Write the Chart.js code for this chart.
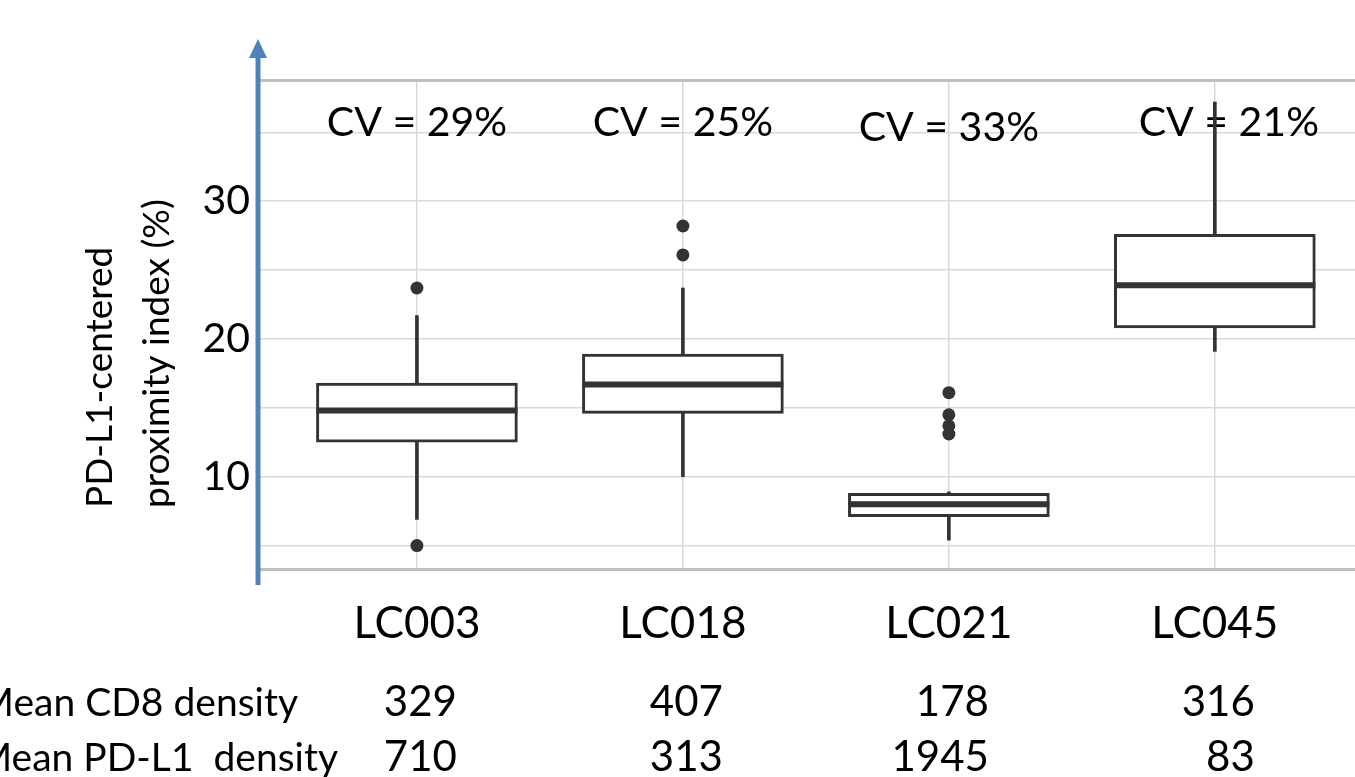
<!DOCTYPE html>
<html>
<head>
<meta charset="utf-8">
<script src="https://cdn.jsdelivr.net/npm/chart.js@4.4.1/dist/chart.umd.min.js"></script>
<style>
	body { margin: 0; background: #fff; }
	canvas { display: block; }
</style>
</head>
<body>
<canvas id="chart-box" width="1355" height="777"></canvas>
<script>
const categories = ['LC003', 'LC018', 'LC021', 'LC045'];

// box statistics
const whisker_low = [6.9, 10.0, 5.4, 19.1];
const q1 = [12.5, 14.6, 7.1, 20.8];
const median = [14.8, 16.7, 8.0, 23.9];
const q3 = [16.8, 18.9, 8.8, 27.6];
const whisker_high = [21.7, 23.7, 8.9, 37.2];
const outliers = [
	[23.7, 5.0],
	[28.2, 26.1],
	[16.1, 14.5, 13.7, 13.1],
	[],
];

const cv_labels = ['CV = 29%', 'CV = 25%', 'CV = 33%', 'CV = 21%'];
const cd8_density = [329, 407, 178, 316];
const pdl1_density = [710, 313, 1945, 83];

const y_ticks = [5, 10, 15, 20, 25, 30, 35];
const y_labels = [10, 20, 30];
const y_title = ['PD-L1-centered', 'proximity index (%)'];
const row_labels = ['Mean CD8 density', 'Mean PD-L1  density'];

const y_min = 3.3;
const y_max = 38.8;
const x_min = -0.59;
const x_max = 3.527;

const FONT = 'Lato, "Open Sans", sans-serif';
const DARK = '#333333';

const rows = (arr) => arr.map((v, i) => ({x: i, y: v}));

const outlier_points = [];
outliers.forEach((list, i) => list.forEach(v => outlier_points.push({x: i, y: v})));

const extras = {
	id: 'extras',
	beforeDatasetsDraw(chart) {
		const {ctx, chartArea} = chart;
		const xs = chart.scales.x;
		ctx.save();
		ctx.fillStyle = '#000';
		ctx.font = '41px ' + FONT;
		ctx.textAlign = 'center';
		ctx.textBaseline = 'alphabetic';
		cv_labels.forEach((t, i) => {
			const dy = i === 2 ? 5 : 0;
			const dx = i === 3 ? 14 : 0;
			ctx.fillText(t, xs.getPixelForValue(i) + dx, chartArea.top + 56 + dy);
		});
		ctx.restore();
	},
	afterDraw(chart) {
		const {ctx, chartArea} = chart;
		const xs = chart.scales.x;
		ctx.save();

		// blue axis arrow
		const ax = chartArea.left - 2;
		ctx.strokeStyle = '#4f81bd';
		ctx.fillStyle = '#4f81bd';
		ctx.lineWidth = 5;
		ctx.beginPath();
		ctx.moveTo(ax, chartArea.bottom + 16);
		ctx.lineTo(ax, 55);
		ctx.stroke();
		ctx.beginPath();
		ctx.moveTo(ax, 39);
		ctx.lineTo(ax - 9, 58);
		ctx.lineTo(ax + 9, 58);
		ctx.closePath();
		ctx.fill();

		// y title, two lines
		ctx.fillStyle = '#000';
		ctx.font = '37px ' + FONT;
		ctx.textAlign = 'left';
		ctx.textBaseline = 'middle';
		y_title.forEach((t, i) => {
			ctx.save();
			ctx.translate(100 + i * 57, 508);
			ctx.rotate(-Math.PI / 2);
			ctx.fillText(t, 0, 0);
			ctx.restore();
		});

		// density table under the axis
		ctx.textBaseline = 'alphabetic';
		ctx.textAlign = 'right';
		ctx.font = '39px ' + FONT;
		ctx.fillText(row_labels[0], 298, 716);
		ctx.fillText(row_labels[1], 338, 771);
		ctx.font = '42px ' + FONT;
		categories.forEach((c, i) => {
			const px = xs.getPixelForValue(i) + 40;
			ctx.fillText(String(cd8_density[i]), px, 716);
			ctx.fillText(String(pdl1_density[i]), px, 771);
		});
		ctx.restore();
	}
};

const data = {
	datasets: [
		{
			type: 'line',
			label: 'median',
			data: rows(median),
			showLine: false,
			pointStyle: 'line',
			pointRadius: 100.5,
			pointHoverRadius: 100.5,
			borderColor: DARK,
			pointBorderWidth: 6,
			clip: false,
			order: 0
		},
		{
			type: 'line',
			label: 'outliers',
			data: outlier_points,
			showLine: false,
			pointRadius: 6.5,
			pointHoverRadius: 6.5,
			pointBackgroundColor: DARK,
			pointBorderColor: DARK,
			pointBorderWidth: 0,
			order: 0
		},
		{
			type: 'bar',
			label: 'box',
			data: categories.map((c, i) => ({x: i, y: [q1[i], q3[i]]})),
			backgroundColor: '#ffffff',
			borderColor: DARK,
			borderWidth: 3,
			borderSkipped: false,
			barThickness: 201,
			grouped: false,
			order: 1
		},
		{
			type: 'bar',
			label: 'upper whisker',
			data: categories.map((c, i) => ({x: i, y: [q3[i], whisker_high[i]]})),
			backgroundColor: DARK,
			borderWidth: 0,
			barThickness: 3,
			grouped: false,
			order: 2
		},
		{
			type: 'bar',
			label: 'lower whisker',
			data: categories.map((c, i) => ({x: i, y: [whisker_low[i], q1[i]]})),
			backgroundColor: DARK,
			borderWidth: 0,
			barThickness: 3,
			grouped: false,
			order: 2
		},
	]
};

const edge = (v) => v === y_min || v === y_max;

const config = {
	type: 'bar',
	data: data,
	options: {
		responsive: false,
		animation: false,
		layout: {
			autoPadding: false,
			padding: {top: 80, right: 0, left: 0, bottom: 0}
		},
		plugins: {
			legend: {display: false},
			tooltip: {enabled: false},
		},
		events: [],
		scales: {
			x: {
				type: 'linear',
				min: x_min,
				max: x_max,
				offset: false,
				afterBuildTicks: (s) => { s.ticks = categories.map((c, i) => ({value: i})); },
				afterFit: (s) => { s.height = 208; },
				border: {display: false},
				grid: {
					color: '#d9d9d9',
					lineWidth: 1.5,
					drawTicks: false,
					offset: false
				},
				ticks: {
					callback: (v) => categories[v],
					color: '#000',
					font: {family: FONT, size: 44},
					padding: 28,
					maxRotation: 0,
					autoSkip: false
				}
			},
			y: {
				min: y_min,
				max: y_max,
				afterBuildTicks: (s) => {
					s.ticks = [y_min, ...y_ticks, y_max].map(v => ({value: v}));
				},
				afterFit: (s) => { s.width = 260; },
				border: {display: false},
				grid: {
					color: (c) => edge(c.tick.value) ? '#bfbfbf' : '#d9d9d9',
					lineWidth: (c) => edge(c.tick.value) ? 3 : 1.5,
					drawTicks: false
				},
				ticks: {
					callback: (v) => y_labels.includes(v) ? String(v) : '',
					color: '#000',
					font: {family: FONT, size: 41},
					padding: 10,
					autoSkip: false
				}
			}
		}
	},
	plugins: [extras]
};

document.addEventListener('DOMContentLoaded', () => {
	const ctx = document.getElementById('chart-box');
	const chartBox = new Chart(ctx, config);
});
</script>
</body>
</html>
